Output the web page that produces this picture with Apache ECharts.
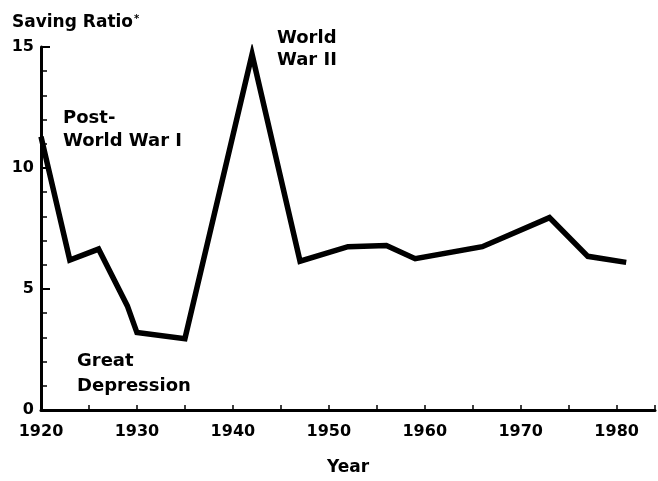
<!DOCTYPE html>
<html>
<head>
<meta charset="utf-8">
<script src="https://cdn.jsdelivr.net/npm/echarts@6/dist/echarts.min.js"></script>
<style>
  html, body { margin: 0; padding: 0; background: #fff; }
  #chart { width: 658px; height: 481px; }
</style>
</head>
<body>
<div id="chart"></div>
<script>
// saving ratio
const years = [1920, 1923, 1926, 1929, 1930, 1935, 1942, 1947, 1952, 1956, 1959, 1966, 1973, 1977, 1981];
const ratios = [11.3, 6.2, 6.65, 4.3, 3.2, 2.95, 14.7, 6.15, 6.75, 6.8, 6.25, 6.75, 7.95, 6.35, 6.1];

const yTicks = [0, 5, 10, 15];
const xLabels = [1920, 1930, 1940, 1950, 1960, 1970, 1980];

const FONT = "DejaVu Sans";

function initChart() {
  const dom = document.getElementById("chart");
  const myChart = echarts.init(dom, null, { renderer: "canvas" });

  const points = years.map((y, i) => [y, ratios[i]]);

  const option = {
    animation: false,
    backgroundColor: "#fff",
    grid: { left: 41, right: 3, top: 47, bottom: 69 },
    xAxis: {
      type: "value",
      min: 1920,
      max: 1984,
      interval: 5,
      name: "Year",
      nameLocation: "middle",
      nameGap: 49,
      nameTextStyle: { fontFamily: FONT, fontWeight: "bold", fontSize: 17, color: "#000" },
      axisLine: { lineStyle: { color: "#000", width: 3 } },
      axisTick: { inside: true, length: 5, lineStyle: { color: "#000", width: 1.5 } },
      axisLabel: {
        margin: 14,
        fontFamily: FONT,
        fontWeight: "bold",
        fontSize: 16,
        color: "#000",
        formatter: (v) => (xLabels.includes(v) ? String(v) : ""),
      },
      splitLine: { show: false },
    },
    yAxis: {
      type: "value",
      min: yTicks[0],
      max: yTicks[yTicks.length - 1],
      interval: 5,
      axisLine: { show: true, lineStyle: { color: "#000", width: 3 } },
      axisTick: { show: true, inside: true, length: 9, lineStyle: { color: "#000", width: 2 } },
      minorTick: { show: true, splitNumber: 5, length: 6, lineStyle: { color: "#000", width: 1.5 } },
      axisLabel: {
        margin: 7,
        fontFamily: FONT,
        fontWeight: "bold",
        fontSize: 16,
        color: "#000",
      },
      splitLine: { show: false },
    },
    series: [
      {
        type: "line",
        data: points,
        showSymbol: false,
        symbol: "none",
        lineStyle: { color: "#000", width: 5.5, join: "miter", miterLimit: 6 },
        z: 3,
      },
    ],
    graphic: [
      {
        type: "text",
        left: 12,
        top: 14,
        style: {
          text: "{t|Saving Ratio}{s|*}",
          rich: {
            t: { fontFamily: FONT, fontWeight: "bold", fontSize: 17, fill: "#000" },
            s: { fontFamily: FONT, fontWeight: "bold", fontSize: 10, fill: "#000", verticalAlign: "top", padding: [0, 0, 8, 1] },
          },
        },
      },
      {
        type: "text",
        left: 63,
        top: 107,
        style: {
          text: "Post-\nWorld War I",
          fontFamily: FONT, fontWeight: "bold", fontSize: 18, lineHeight: 23, fill: "#000",
        },
      },
      {
        type: "text",
        left: 277,
        top: 27,
        style: {
          text: "World\nWar II",
          fontFamily: FONT, fontWeight: "bold", fontSize: 18, lineHeight: 22, fill: "#000",
        },
      },
      {
        type: "text",
        left: 77,
        top: 349,
        style: {
          text: "Great\nDepression",
          fontFamily: FONT, fontWeight: "bold", fontSize: 18, lineHeight: 25, fill: "#000",
        },
      },
    ],
  };

  myChart.setOption(option);
}

initChart();
</script>
</body>
</html>
